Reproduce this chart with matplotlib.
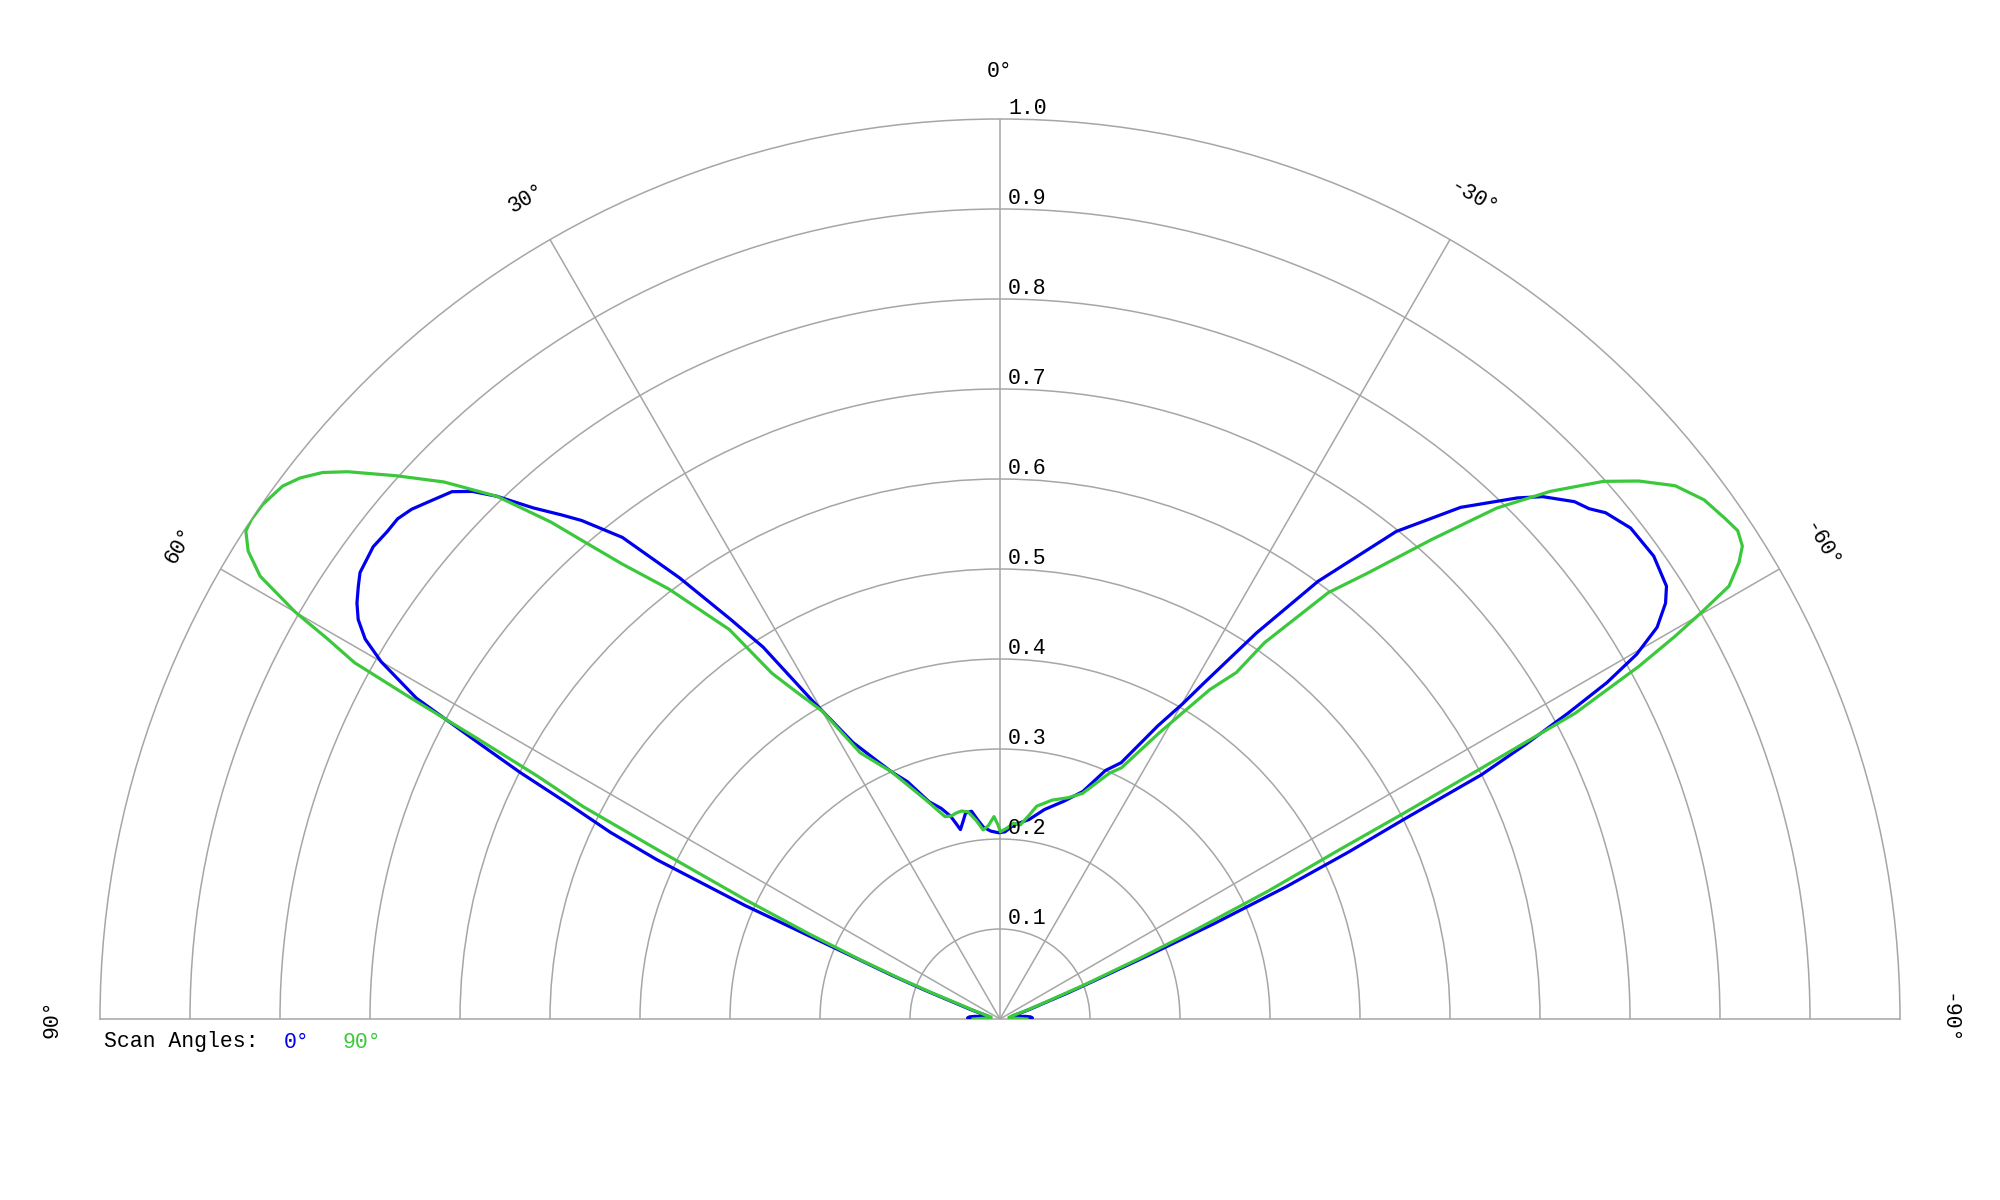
import numpy as np
import matplotlib
matplotlib.use("Agg")
import matplotlib.pyplot as plt
import matplotlib.transforms as mtransforms

# ---------------- data (angle in degrees, positive = left; normalised intensity) ----
blue_theta = [90, 88, 86, 84, 82, 80, 78, 76, 74, 72, 70, 69, 68, 67, 66.4, 66.0,
              65.1, 64.4, 63.5, 62.8, 62.1, 61.2, 60.0, 59.1, 58.1, 57.1, 56.0,
              55.1, 53.0, 51.5, 50.3, 49.1, 47.8, 46.1, 45.0, 43.9, 42.4, 41.0,
              40.0, 38.1, 36.0, 34.0, 32.5, 30.5, 28.0, 25.5, 23.7, 21.3, 18.1,
              15.6, 13.7, 12.6, 11.8, 10.5, 9.5, 7.8, 6.3, 4.95, 2.8, 0.5, -1.5,
              -4.0, -8.3, -12.0, -16.3, -20.0, -23.0, -25.3, -28.3, -30.1, -31.2,
              -33.6, -36.0, -39.1, -42.0, -44.8, -46.1, -48.0, -49.1, -50.1, -52.1,
              -54.7, -57.0, -58.0, -59.2, -60.2, -61.0, -61.7, -62.4, -63.1, -63.7,
              -64.4, -65.2, -66.0, -66.8, -68.0, -69.0, -70.0, -72, -74, -76, -78,
              -80, -82, -84, -86, -88, -90]
blue_r = [0.030, 0.036, 0.034, 0.028, 0.020, 0.015, 0.013, 0.015, 0.022, 0.035,
          0.060, 0.090, 0.130, 0.180, 0.240, 0.310, 0.420, 0.480, 0.537, 0.600,
          0.656, 0.740, 0.794, 0.822, 0.840, 0.851, 0.860, 0.867, 0.872, 0.870,
          0.870, 0.865, 0.856, 0.845, 0.829, 0.806, 0.769, 0.742, 0.723, 0.680,
          0.606, 0.536, 0.490, 0.410, 0.348, 0.318, 0.300, 0.283, 0.254, 0.243,
          0.232, 0.222, 0.215, 0.224, 0.232, 0.233, 0.222, 0.214, 0.209, 0.207,
          0.208, 0.216, 0.224, 0.238, 0.252, 0.269, 0.300, 0.315, 0.370, 0.405,
          0.435, 0.515, 0.601, 0.698, 0.765, 0.816, 0.837, 0.859, 0.866, 0.877,
          0.888, 0.890, 0.883, 0.872, 0.850, 0.815, 0.771, 0.717, 0.660, 0.600,
          0.500, 0.430, 0.350, 0.260, 0.180, 0.110, 0.080, 0.055, 0.035, 0.022,
          0.015, 0.013, 0.015, 0.020, 0.028, 0.034, 0.036, 0.030]

green_theta = [90, 88, 86, 82, 78, 75, 72, 70, 69, 68, 67, 66, 64.9, 63.7, 63.0,
               62.3, 61.8, 61.4, 61.1, 60.5, 60.0, 59.1, 58.1, 57.1, 56.3, 55.1,
               53.4, 52.3, 51.1, 50.0, 48.0, 46.0, 43.9, 42.1, 41.0, 39.7, 37.6,
               34.8, 33.4, 32.0, 30.0, 27.7, 23.7, 18.7, 15.2, 13.5, 12.0, 10.5,
               8.8, 6.8, 5.1, 3.5, 1.7, 0.5, -0.1, -2.0, -4.0, -6.0, -8.0, -9.8,
               -13.4, -17.0, -20.1, -24.0, -25.8, -29.1, -30.8, -32.5, -34.3, -35.1,
               -37.6, -39.5, -42.0, -44.2, -46.2, -48.3, -49.9, -51.7, -53.6, -55.4,
               -56.5, -57.5, -58.3, -59.3, -59.9, -60.45, -61.1, -62.0, -62.5, -63.0,
               -63.5, -64.5, -65.5, -66.5, -68, -70, -72, -75, -80, -86, -88, -90]
green_r = [0.030, 0.020, 0.012, 0.010, 0.010, 0.015, 0.030, 0.050, 0.080, 0.120,
           0.170, 0.230, 0.312, 0.424, 0.520, 0.580, 0.656, 0.749, 0.819, 0.860,
           0.904, 0.958, 0.984, 0.998, 1.000, 0.999, 0.993, 0.983, 0.967, 0.946,
           0.902, 0.859, 0.806, 0.744, 0.701, 0.657, 0.603, 0.527, 0.460, 0.430,
           0.395, 0.334, 0.300, 0.257, 0.233, 0.232, 0.234, 0.235, 0.233, 0.222,
           0.211, 0.215, 0.225, 0.215, 0.208, 0.212, 0.218, 0.217, 0.228, 0.240,
           0.250, 0.257, 0.267, 0.299, 0.310, 0.364, 0.396, 0.434, 0.466, 0.511,
           0.598, 0.642, 0.717, 0.792, 0.847, 0.898, 0.928, 0.956, 0.972, 0.979,
           0.983, 0.978, 0.965, 0.942, 0.901, 0.862, 0.811, 0.724, 0.599, 0.503,
           0.421, 0.330, 0.240, 0.170, 0.100, 0.050, 0.030, 0.015, 0.010, 0.012,
           0.020, 0.030]

radial_ticks = [0.1, 0.2, 0.3, 0.4, 0.5, 0.6, 0.7, 0.8, 0.9, 1.0]
radial_labels = ["0.1", "0.2", "0.3", "0.4", "0.5", "0.6", "0.7", "0.8", "0.9", "1.0"]
theta_ticks = [90, 60, 30, 0, -30, -60, -90]
theta_labels = ["90°", "60°", "30°", "0°", "-30°", "-60°", "-90°"]
legend_title = "Scan Angles:"
series_names = ["0°", "90°"]

# ---------------- style ----------------
BLUE = "#0000ee"
GREEN = "#3cc83c"
GRID = "#a6a6a6"
FONT = "Liberation Mono"
FS = 15.5

fig = plt.figure(figsize=(20, 12), dpi=100)
# square box: the half-disc occupies the middle half vertically
ax = fig.add_axes([0.05, -269 / 1200, 0.9, 1.5], projection="polar")
ax.set_theta_zero_location("N")
ax.set_theta_direction(1)
ax.set_thetamin(-90)
ax.set_thetamax(90)
ax.set_ylim(0, 1)

ax.set_yticks(radial_ticks[:-1])
ax.set_yticklabels([])
ax.set_xticks(np.deg2rad([-60, -30, 0, 30, 60]))
ax.set_xticklabels([])
ax.tick_params(length=0)
ax.grid(True, color=GRID, lw=1.1)
for s in ax.spines.values():
    s.set_color(GRID)
    s.set_linewidth(1.1)

ax.plot(np.deg2rad(blue_theta), blue_r, color=BLUE, lw=2.3, zorder=3)
ax.plot(np.deg2rad(green_theta), green_r, color=GREEN, lw=2.3, zorder=4)

# theta labels (tangential)
for deg, lab in zip(theta_ticks, theta_labels):
    ax.text(np.deg2rad(deg), 1.053, lab, rotation=deg, rotation_mode="anchor",
            ha="center", va="center", fontsize=FS, family=FONT, clip_on=False)

# radial labels
off = mtransforms.offset_copy(ax.transData, fig=fig, x=8, y=5, units="dots")
for r, lab in zip(radial_ticks, radial_labels):
    ax.text(0, r, lab, transform=off, ha="left", va="baseline",
            fontsize=FS, family=FONT, clip_on=False, zorder=5)

# legend line
ly = 1 - 1042 / 1200
fig.text(104 / 2000, ly, legend_title, fontsize=FS, family=FONT, va="center")
fig.text(284 / 2000, ly, series_names[0], fontsize=FS, family=FONT, va="center", color=BLUE)
fig.text(343 / 2000, ly, series_names[1], fontsize=FS, family=FONT, va="center", color=GREEN)

fig.savefig("out.png", dpi=100, facecolor="white")
